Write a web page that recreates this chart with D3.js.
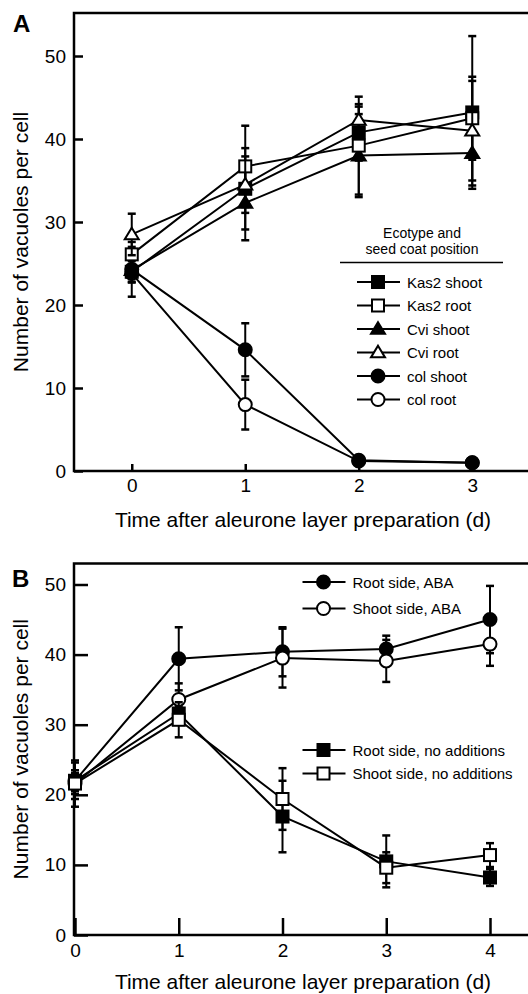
<!DOCTYPE html>
<meta charset="utf-8">
<title>Vacuoles per cell</title>
<style>
    body { margin: 0; background: #fff; }
    svg { display: block; font-family: "Liberation Sans", Arial, Helvetica, sans-serif; }
</style>
<body>
<script src="https://d3js.org/d3.v7.min.js"></script>
<script>
/* Panel A: ecotype and seed coat position */
var daysA = [0, 1, 2, 3];
var namesA = ["Kas2 shoot", "Kas2 root", "Cvi shoot", "Cvi root", "col shoot", "col root"];
var kas2Shoot = [24.0, 34.0, 40.8, 43.2];
var kas2ShootErr = [3.0, 4.9, 3.4, 9.2];
var kas2Root = [26.1, 36.7, 39.2, 42.5];
var kas2RootErr = [1.5, 4.9, 5.9, 5.0];
var cviShoot = [24.2, 32.3, 38.0, 38.3];
var cviShootErr = [1.5, 4.5, 5.0, 3.9];
var cviRoot = [28.5, 34.5, 42.3, 41.0];
var cviRootErr = [2.5, 3.4, 1.6, 6.0];
var colShoot = [24.3, 14.6, 1.3, 1.0];
var colShootErr = [1.0, 3.2, 0.4, 0.3];
var colRoot = [23.8, 8.0, 1.2, 1.0];
var colRootErr = [1.0, 3.0, 0.4, 0.3];
var ticksYA = [0, 10, 20, 30, 40, 50];

/* Panel B: ABA treatment */
var daysB = [0, 1, 2, 3, 4];
var namesB = ["Root side, ABA", "Shoot side, ABA", "Root side, no additions", "Shoot side, no additions"];
var rootAba = [22.0, 39.4, 40.4, 40.8, 45.0];
var rootAbaErr = [2.6, 4.5, 3.5, 1.9, 4.8];
var shootAba = [21.6, 33.6, 39.5, 39.1, 41.5];
var shootAbaErr = [1.5, 2.3, 4.2, 3.0, 3.1];
var rootNoAdd = [22.0, 31.6, 16.9, 10.5, 8.2];
var rootNoAddErr = [1.5, 1.0, 5.1, 3.7, 1.2];
var shootNoAdd = [21.6, 30.7, 19.4, 9.6, 11.4];
var shootNoAddErr = [3.3, 2.5, 4.4, 2.2, 1.7];
var ticksYB = [0, 10, 20, 30, 40, 50];

var xLabel = "Time after aleurone layer preparation (d)";
var yLabel = "Number of vacuoles per cell";

var width = 528, height = 994;
var svg = d3.select("body").append("svg")
    .attr("width", width)
    .attr("height", height);

/* marker shapes */
function drawMarker(g, shape, filled, cx, cy, s) {
    var fill = filled ? "#000" : "#fff";
    if (shape === "square") {
        g.append("rect").attr("x", cx - s / 2).attr("y", cy - s / 2)
            .attr("width", s).attr("height", s)
            .attr("fill", fill).attr("stroke", "#000").attr("stroke-width", 2);
    } else if (shape === "circle") {
        g.append("circle").attr("cx", cx).attr("cy", cy).attr("r", s / 2 + 0.5)
            .attr("fill", fill).attr("stroke", "#000").attr("stroke-width", 2);
    } else {
        var h = s * 0.9;
        g.append("path")
            .attr("d", "M" + cx + "," + (cy - h * 0.62) + "L" + (cx + s / 2 + 1) + "," + (cy + h * 0.45) +
                "L" + (cx - s / 2 - 1) + "," + (cy + h * 0.45) + "Z")
            .attr("fill", fill).attr("stroke", "#000").attr("stroke-width", 2)
            .attr("stroke-linejoin", "miter");
    }
}

function drawSeries(g, x, y, days, vals, errs, shape, filled) {
    var line = d3.line().x(function (d, i) { return x(days[i]); }).y(function (d) { return y(d); });
    var s = g.append("g");
    // error bars
    vals.forEach(function (v, i) {
        var cx = x(days[i]);
        var top = y(v + errs[i]), bot = y(v - errs[i]);
        s.append("line").attr("x1", cx).attr("x2", cx).attr("y1", top).attr("y2", bot)
            .attr("stroke", "#000").attr("stroke-width", 2);
        [top, bot].forEach(function (yy) {
            s.append("line").attr("x1", cx - 4).attr("x2", cx + 4).attr("y1", yy).attr("y2", yy)
                .attr("stroke", "#000").attr("stroke-width", 2.5);
        });
    });
    s.append("path").datum(vals).attr("d", line)
        .attr("fill", "none").attr("stroke", "#000").attr("stroke-width", 2);
    vals.forEach(function (v, i) {
        drawMarker(s, shape, filled, x(days[i]), y(v), 12);
    });
}

function drawFrame(g, left, top, right, bottom) {
    g.append("path")
        .attr("d", "M" + right + "," + top + "L" + left + "," + top + "L" + left + "," + bottom + "L" + right + "," + bottom)
        .attr("fill", "none").attr("stroke", "#000").attr("stroke-width", 2.5);
}

function styleAxis(sel) {
    sel.select(".domain").remove();
    sel.selectAll(".tick line").attr("stroke", "#000").attr("stroke-width", 2.5);
    sel.selectAll(".tick text").attr("fill", "#000").attr("font-size", "19px")
        .attr("font-family", "'Liberation Sans', Arial, sans-serif");
}

function legendEntry(g, lx, ly, shape, filled, label) {
    g.append("line").attr("x1", lx - 21).attr("x2", lx + 22).attr("y1", ly).attr("y2", ly)
        .attr("stroke", "#000").attr("stroke-width", 2);
    drawMarker(g, shape, filled, lx, ly, 12);
    g.append("text").attr("x", lx + 29).attr("y", ly + 5.5)
        .attr("font-size", "15px").text(label);
}

/* ---------- Panel A ---------- */
var xA = d3.scaleLinear().domain([-0.5, 3.5]).range([75, 529]);
var yA = d3.scaleLinear().domain([0, 50]).range([471, 56]);
var gA = svg.append("g");

gA.append("g").attr("transform", "translate(74,0)")
    .call(d3.axisLeft(yA).tickValues(ticksYA).tickSize(-9).tickPadding(8).tickFormat(d3.format("d")))
    .call(styleAxis);
gA.append("g").attr("transform", "translate(0,471)")
    .call(d3.axisBottom(xA).tickValues(daysA).tickSize(-7).tickPadding(8).tickFormat(d3.format("d")))
    .call(styleAxis);
drawFrame(gA, 74, 13, 528, 471);

drawSeries(gA, xA, yA, daysA, colRoot, colRootErr, "circle", false);
drawSeries(gA, xA, yA, daysA, colShoot, colShootErr, "circle", true);
drawSeries(gA, xA, yA, daysA, cviShoot, cviShootErr, "triangle", true);
drawSeries(gA, xA, yA, daysA, kas2Shoot, kas2ShootErr, "square", true);
drawSeries(gA, xA, yA, daysA, kas2Root, kas2RootErr, "square", false);
drawSeries(gA, xA, yA, daysA, cviRoot, cviRootErr, "triangle", false);

gA.append("text").attr("x", 13).attr("y", 32).attr("font-size", "24px").attr("font-weight", "bold").text("A");
gA.append("text").attr("x", 303).attr("y", 527).attr("text-anchor", "middle").attr("font-size", "21px").text(xLabel);
gA.append("text").attr("transform", "translate(28," + (yA(0) + 13) / 2 + ") rotate(-90)")
    .attr("text-anchor", "middle").attr("font-size", "21px").text(yLabel);

// legend A
var legA = gA.append("g");
legA.append("text").attr("x", 422).attr("y", 237.5).attr("text-anchor", "middle").attr("font-size", "14px").text("Ecotype and");
legA.append("text").attr("x", 422).attr("y", 254).attr("text-anchor", "middle").attr("font-size", "14px").text("seed coat position");
legA.append("line").attr("x1", 340).attr("x2", 503).attr("y1", 262.5).attr("y2", 262.5).attr("stroke", "#000").attr("stroke-width", 1.5);
var shapesA = [["square", true], ["square", false], ["triangle", true], ["triangle", false], ["circle", true], ["circle", false]];
namesA.forEach(function (n, i) {
    legendEntry(legA, 378, 282 + i * 23.5, shapesA[i][0], shapesA[i][1], n);
});

/* ---------- Panel B ---------- */
var xB = d3.scaleLinear().domain([0, 4]).range([75, 490]);
var yB = d3.scaleLinear().domain([0, 50]).range([935, 584.5]);
var gB = svg.append("g");

gB.append("g").attr("transform", "translate(74,0)")
    .call(d3.axisLeft(yB).tickValues(ticksYB).tickSize(-14).tickPadding(8).tickFormat(d3.format("d")))
    .call(styleAxis);
gB.append("g").attr("transform", "translate(0,935)")
    .call(d3.axisBottom(xB).tickValues(daysB).tickSize(-17).tickPadding(9).tickFormat(d3.format("d")))
    .call(styleAxis);
drawFrame(gB, 74, 563.5, 528, 935);

drawSeries(gB, xB, yB, daysB, rootAba, rootAbaErr, "circle", true);
drawSeries(gB, xB, yB, daysB, shootAba, shootAbaErr, "circle", false);
drawSeries(gB, xB, yB, daysB, rootNoAdd, rootNoAddErr, "square", true);
drawSeries(gB, xB, yB, daysB, shootNoAdd, shootNoAddErr, "square", false);

gB.append("text").attr("x", 12).attr("y", 587).attr("font-size", "24px").attr("font-weight", "bold").text("B");
gB.append("text").attr("x", 303).attr("y", 989).attr("text-anchor", "middle").attr("font-size", "21px").text(xLabel);
gB.append("text").attr("transform", "translate(28," + (935 + 563.5) / 2 + ") rotate(-90)")
    .attr("text-anchor", "middle").attr("font-size", "21px").text(yLabel);

// legend B
var legB = gB.append("g");
var shapesB = [["circle", true], ["circle", false], ["square", true], ["square", false]];
var legBY = [582, 608.5, 750, 773.5];
namesB.forEach(function (n, i) {
    legendEntry(legB, 323.5, legBY[i], shapesB[i][0], shapesB[i][1], n);
});
</script>
</body>
